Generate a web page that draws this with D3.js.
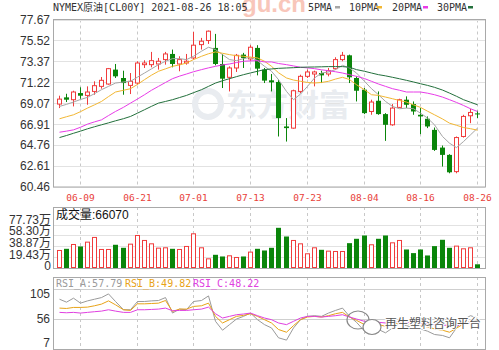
<!DOCTYPE html>
<html>
<head>
<meta charset="utf-8">
<script src="https://cdn.jsdelivr.net/npm/d3@7"></script>
<style>
  html, body { margin: 0; padding: 0; background: #fff; }
  svg { display: block; }
</style>
</head>
<body>
<div id="chart"></div>
<script>
// Trading days shown (MM-DD)
const dates = [
  '06-04','06-07','06-08','06-09','06-10','06-11','06-14','06-15','06-16','06-17',
  '06-18','06-21','06-22','06-23','06-24','06-25','06-28','06-29','06-30','07-01',
  '07-02','07-05','07-06','07-07','07-08','07-09','07-12','07-13','07-14','07-15',
  '07-16','07-19','07-20','07-21','07-22','07-23','07-26','07-27','07-28','07-29',
  '07-30','08-02','08-03','08-04','08-05','08-06','08-09','08-10','08-11','08-12',
  '08-13','08-16','08-17','08-18','08-19','08-20','08-23','08-24','08-25','08-26'
];

const opens = [
  68.98, 69.67, 69.43, 70.11, 69.87, 70.28, 70.80, 71.04, 72.52, 71.66,
  70.90, 71.14, 73.03, 73.03, 73.10, 73.55, 74.13, 73.10, 73.20, 73.72,
  75.09, 75.51, 74.75, 73.10, 71.73, 72.69, 74.06, 73.62, 74.75, 72.52,
  71.42, 71.25, 66.68, 66.51, 70.28, 71.83, 72.07, 72.17, 72.07, 72.62,
  73.55, 73.99, 71.66, 70.46, 68.22, 69.32, 67.95, 66.85, 68.64, 69.43,
  68.98, 67.88, 67.47, 66.33, 64.51, 63.76, 62.04, 65.65, 67.78, 68.02
];
const highs = [
  69.84, 70.04, 70.35, 70.70, 70.80, 71.32, 71.76, 72.69, 73.10, 72.41,
  72.17, 73.38, 73.48, 74.34, 73.72, 74.34, 74.58, 73.89, 74.13, 76.40,
  75.78, 76.54, 76.19, 74.13, 72.86, 74.13, 74.24, 75.03, 75.03, 72.69,
  72.07, 71.49, 67.54, 70.46, 72.00, 72.52, 72.41, 72.41, 72.69, 73.79,
  74.34, 74.06, 71.83, 70.63, 69.43, 70.28, 68.05, 68.98, 69.53, 69.77,
  69.25, 68.57, 67.71, 66.57, 64.72, 63.83, 65.65, 67.88, 68.50, 68.29
];
const lows = [
  68.57, 69.19, 68.74, 69.53, 68.91, 69.94, 70.56, 70.97, 71.66, 69.94,
  70.01, 70.97, 72.69, 72.76, 72.52, 73.03, 72.76, 72.35, 73.03, 73.55,
  74.58, 75.16, 72.96, 70.63, 70.28, 72.28, 72.69, 73.38, 71.93, 71.14,
  70.28, 65.65, 65.13, 66.45, 70.11, 71.66, 70.80, 71.14, 71.83, 72.52,
  73.38, 71.14, 69.25, 67.95, 67.88, 67.88, 65.20, 66.75, 68.57, 68.57,
  67.88, 65.89, 66.51, 64.17, 62.56, 61.87, 61.87, 65.54, 67.02, 67.54
];
const closes = [
  69.49, 69.43, 70.22, 69.84, 70.22, 70.87, 71.42, 72.62, 71.83, 71.14,
  71.32, 73.20, 73.20, 73.44, 73.38, 74.13, 73.10, 73.55, 73.38, 75.03,
  75.44, 76.47, 73.10, 71.59, 72.69, 73.99, 73.72, 74.82, 72.62, 71.39,
  71.21, 67.54, 66.51, 70.35, 71.83, 72.28, 72.28, 71.93, 72.41, 73.55,
  73.99, 71.73, 70.35, 68.05, 69.19, 67.95, 66.85, 68.57, 69.43, 68.91,
  68.22, 67.71, 66.68, 64.27, 63.76, 61.97, 65.54, 67.71, 68.12, 67.92
];

// Moving averages
const ma5 = [
  68.74, 68.95, 69.19, 69.45, 69.67, 70.05, 70.46, 70.80, 71.14, 71.25,
  71.32, 71.75, 72.17, 72.60, 73.03, 73.38, 73.65, 73.65, 73.55, 73.89,
  74.41, 74.82, 74.58, 74.06, 73.55, 73.44, 73.65, 73.79, 73.44, 72.86,
  72.35, 71.49, 70.28, 69.43, 70.01, 70.80, 71.66, 72.17, 72.28, 72.52,
  72.96, 72.69, 72.17, 71.32, 70.56, 69.94, 69.25, 68.74, 68.50, 68.57,
  68.50, 68.05, 67.54, 66.85, 65.65, 64.96, 64.51, 65.13, 65.82, 66.51
];
const ma10 = [
  67.47, 67.68, 67.88, 68.20, 68.57, 68.90, 69.25, 69.75, 70.22, 70.40,
  70.56, 71.00, 71.49, 71.95, 72.35, 72.60, 72.86, 73.00, 73.20, 73.55,
  73.89, 74.15, 74.34, 74.20, 74.06, 73.95, 73.89, 73.80, 73.72, 73.38,
  72.86, 72.20, 71.66, 71.45, 71.32, 71.20, 71.14, 71.20, 71.32, 71.55,
  71.73, 71.50, 70.97, 70.45, 69.94, 69.87, 69.70, 69.53, 69.35, 69.19,
  68.90, 68.64, 68.25, 67.88, 67.45, 67.02, 66.80, 66.57, 66.45, 66.30
];
const ma20 = [
  66.09, 66.20, 66.33, 66.60, 66.92, 67.15, 67.36, 67.80, 68.22, 68.65,
  69.08, 69.50, 69.94, 70.40, 70.80, 71.20, 71.59, 71.85, 72.07, 72.30,
  72.52, 72.70, 72.86, 73.00, 73.10, 73.25, 73.38, 73.42, 73.44, 73.31,
  73.31, 73.15, 73.03, 72.90, 72.76, 72.70, 72.62, 72.50, 72.41, 72.30,
  72.17, 72.00, 71.83, 71.60, 71.32, 71.04, 70.80, 70.56, 70.40, 70.22,
  70.22, 70.22, 70.10, 69.94, 69.70, 69.43, 69.15, 68.84, 68.50, 68.22
];
const ma30 = [
  65.54, 65.75, 65.98, 66.20, 66.44, 66.65, 66.85, 67.05, 67.26, 67.48,
  67.71, 68.05, 68.40, 68.75, 69.08, 69.25, 69.43, 69.65, 69.87, 70.15,
  70.46, 70.80, 71.14, 71.38, 71.59, 71.80, 72.00, 72.18, 72.35, 72.52,
  72.59, 72.65, 72.69, 72.72, 72.76, 72.78, 72.79, 72.81, 72.83, 72.83,
  72.83, 72.76, 72.52, 72.35, 72.17, 72.00, 71.88, 71.73, 71.58, 71.42,
  71.25, 71.07, 70.90, 70.70, 70.42, 70.11, 69.78, 69.43, 69.17, 68.91
];

// Volume in 万 (10k)
const volumes = [
  31.3, 34.3, 42.0, 38.5, 46.2, 54.6, 33.1, 33.1, 41.5, 36.1,
  42.6, 58.1, 49.2, 43.2, 35.5, 36.1, 34.3, 33.1, 38.5, 61.1,
  36.1, 16.4, 23.6, 20.6, 21.8, 18.8, 20.6, 28.4, 34.3, 31.3,
  36.1, 71.8, 56.3, 49.2, 43.2, 25.4, 36.1, 32.5, 30.1, 29.5,
  29.5, 44.4, 52.2, 58.1, 41.5, 52.2, 58.1, 45.0, 49.2, 33.1,
  26.6, 33.1, 22.4, 39.1, 50.4, 36.1, 39.1, 34.3, 36.1, 6.607
];

const rsiA = [
  88.3, 83.5, 90.0, 81.9, 85.6, 88.3, 91.0, 97.0, 84.6, 71.1,
  71.1, 84.6, 84.6, 85.6, 86.2, 91.0, 65.7, 72.2, 71.1, 84.6,
  86.2, 93.7, 52.2, 37.7, 46.8, 56.0, 60.3, 65.7, 54.9, 46.8,
  41.4, 25.3, 21.5, 41.4, 54.9, 60.3, 61.4, 60.3, 65.7, 70.0,
  73.8, 60.3, 50.6, 36.1, 44.1, 38.8, 33.4, 41.4, 48.5, 45.2,
  41.4, 39.8, 36.1, 30.7, 29.1, 25.3, 41.4, 54.9, 61.4, 57.79
];
const rsiB = [
  73.8, 73.2, 74.9, 74.9, 75.4, 77.6, 80.3, 85.6, 79.2, 71.1,
  70.0, 80.8, 80.8, 81.3, 81.9, 86.2, 68.4, 72.2, 72.2, 76.5,
  77.6, 81.9, 60.3, 49.5, 54.9, 60.3, 61.9, 64.6, 60.3, 54.9,
  49.5, 38.8, 34.4, 45.2, 54.9, 59.2, 60.3, 59.2, 61.4, 64.6,
  66.8, 59.2, 53.8, 46.8, 49.5, 46.8, 44.1, 46.8, 49.5, 48.5,
  46.8, 45.2, 43.1, 39.8, 37.7, 34.4, 41.0, 48.0, 52.0, 49.82
];
const rsiC = [
  66.8, 66.2, 66.8, 65.7, 66.8, 67.9, 68.9, 71.1, 68.9, 66.8,
  66.8, 71.1, 71.1, 71.6, 72.2, 73.8, 69.5, 70.0, 70.0, 71.1,
  72.2, 75.4, 64.6, 57.6, 60.3, 63.0, 64.1, 65.7, 61.4, 57.6,
  54.9, 49.5, 46.8, 52.2, 57.6, 60.3, 60.3, 59.2, 60.3, 61.4,
  63.0, 59.2, 56.0, 52.2, 52.2, 50.6, 49.5, 50.6, 51.1, 50.6,
  49.5, 49.5, 48.5, 46.8, 46.3, 45.2, 45.5, 48.5, 50.0, 48.22
];

const priceTicks = [77.67, 75.52, 73.37, 71.22, 69.07, 66.91, 64.76, 62.61, 60.46];
const dateTicks = ['06-09', '06-21', '07-01', '07-13', '07-23', '08-04', '08-16', '08-26'];
const volTicks = [0, 19.43, 38.87, 58.30, 77.73];
const volTickLabels = ['0', '19.43万', '38.87万', '58.30万', '77.73万'];
const rsiTicks = [7, 56, 105];

const title = 'NYMEX原油[CL00Y] 2021-08-26 18:05';
const maNames = ['5PMA', '10PMA', '20PMA', '30PMA'];
const volLabel = '成交量:66070';
const rsiNames = ['RSI_A:57.79', 'RSI_B:49.82', 'RSI_C:48.22'];

// ---------------------------------------------------------------
const W = 499, H = 350;
const left = 53, right = 485;
const main = { top: 19.5, bottom: 187 };
const vol = { top: 207, bottom: 268 };
const rsi = { top: 277, bottom: 349 };

const RED = '#f03c3c';
const GREEN = '#0a850a';
const maColors = ['#a6a6a6', '#f2b733', '#e83ce8', '#23703c'];
const rsiColors = ['#9a9a9a', '#e8a317', '#e040e0'];
const MONO = '"DejaVu Sans Mono", "Noto Sans CJK SC", monospace';
const SANS = '"Liberation Sans", Arial, "Noto Sans CJK SC", sans-serif';

const data = dates.map((d, i) => ({
  date: d, open: opens[i], high: highs[i], low: lows[i], close: closes[i],
  vol: volumes[i], up: closes[i] >= opens[i]
}));

const svg = d3.select('#chart').append('svg')
  .attr('width', W).attr('height', H);

const x = d3.scaleBand().domain(dates).range([55.2, 480.5]);
const cx = d => Math.round(x(d) + x.bandwidth() / 2);

const y = d3.scaleLinear().domain([60.46, 77.67]).range([main.bottom, main.top]);
const yVol = d3.scaleLinear().domain([0, 77.73]).range([vol.bottom, 224.5]);
const yRsi = d3.scaleLinear().domain([7, 105]).range([rsi.bottom, 289]);

// top red site watermark (cut off at the top edge, as in the original)
svg.append('text')
  .attr('x', 306).attr('y', 12)
  .attr('text-anchor', 'end')
  .attr('fill', '#f8c6ba')
  .style('font', 'bold 24px "Liberation Sans", Arial, sans-serif')
  .text('gu.cn');

// title
svg.append('text')
  .attr('x', 53).attr('y', 11)
  .attr('fill', '#333')
  .style('font-family', MONO).style('font-size', '10px')
  .text(title);

// MA legend
const legendX = [308, 349, 392, 437];
const legendDash = [335, 377, 423, 468];
maNames.forEach((n, i) => {
  svg.append('text')
    .attr('x', legendX[i]).attr('y', 11)
    .attr('fill', '#333')
    .style('font-family', MONO).style('font-size', '10px')
    .text(n);
  svg.append('rect')
    .attr('x', legendDash[i]).attr('y', 6)
    .attr('width', 5).attr('height', 2.5)
    .attr('fill', maColors[i]);
});

// pane frames, grids
function pane(p) {
  const g = svg.append('g');
  g.selectAll('line.v')
    .data(dateTicks)
    .join('line')
    .attr('x1', d => cx(d) + 0.5).attr('x2', d => cx(d) + 0.5)
    .attr('y1', p.top).attr('y2', p.bottom)
    .attr('stroke', '#c8c8c8')
    .attr('stroke-dasharray', '3,3');
  return g;
}

// ---- main pane
const gMain = pane(main);
gMain.selectAll('line.h')
  .data(priceTicks)
  .join('line')
  .attr('x1', left).attr('x2', right)
  .attr('y1', d => Math.round(y(d)) + 0.5).attr('y2', d => Math.round(y(d)) + 0.5)
  .attr('stroke', '#e2e2e2');

// watermark logo text
svg.append('text')
  .attr('x', 226).attr('y', 116)
  .attr('fill', '#e9ecf0')
  .style('font', 'bold 31px "Noto Sans CJK SC", sans-serif')
  .text('东方财富');
svg.append('circle')
  .attr('cx', 208).attr('cy', 104).attr('r', 13)
  .attr('fill', 'none').attr('stroke', '#e9ecf0').attr('stroke-width', 6);

// candles
const gC = svg.append('g');
gC.selectAll('line.wick')
  .data(data)
  .join('line')
  .attr('x1', d => cx(d.date) + 0.5).attr('x2', d => cx(d.date) + 0.5)
  .attr('y1', d => y(d.high)).attr('y2', d => y(d.low))
  .attr('stroke', d => d.up ? RED : GREEN);

gC.selectAll('rect.body')
  .data(data)
  .join('rect')
  .attr('x', d => d.up ? cx(d.date) - 1.5 : cx(d.date) - 2)
  .attr('width', d => d.up ? 4 : 5)
  .attr('y', d => y(Math.max(d.open, d.close)))
  .attr('height', d => Math.max(1, Math.abs(y(d.open) - y(d.close))))
  .attr('fill', d => d.up ? '#fff' : GREEN)
  .attr('stroke', d => d.up ? RED : 'none');

// moving averages
const maSeries = [ma5, ma10, ma20, ma30];
maSeries.forEach((s, k) => {
  const line = d3.line()
    .x((v, i) => cx(dates[i]) + 0.5)
    .y(v => y(v));
  svg.append('path')
    .datum(s)
    .attr('fill', 'none')
    .attr('stroke', maColors[k])
    .attr('stroke-width', 1)
    .attr('d', line);
});

// main frame
svg.append('rect')
  .attr('x', left + 0.5).attr('y', 19.5)
  .attr('width', right - left).attr('height', main.bottom - 19.5)
  .attr('fill', 'none').attr('stroke', '#a9a9a9');

// price labels
svg.append('g').selectAll('text')
  .data(priceTicks)
  .join('text')
  .attr('x', 50).attr('y', d => y(d))
  .attr('dy', '0.36em')
  .attr('text-anchor', 'end')
  .attr('fill', '#333')
  .style('font-family', SANS).style('font-size', '12px')
  .text(d => d.toFixed(2));

// date labels
svg.append('g').selectAll('text')
  .data(dateTicks)
  .join('text')
  .attr('x', d => cx(d) + 0.5).attr('y', 201)
  .attr('text-anchor', 'middle')
  .attr('fill', '#e8413a')
  .style('font-family', MONO).style('font-size', '9.5px')
  .text(d => d);

// ---- volume pane
const gVol = pane(vol);
gVol.selectAll('line.h')
  .data(volTicks.slice(1))
  .join('line')
  .attr('x1', left).attr('x2', right)
  .attr('y1', d => Math.round(yVol(d)) + 0.5).attr('y2', d => Math.round(yVol(d)) + 0.5)
  .attr('stroke', '#e2e2e2');

svg.append('g').selectAll('rect')
  .data(data)
  .join('rect')
  .attr('x', d => d.up ? cx(d.date) - 1.5 : cx(d.date) - 2)
  .attr('width', d => d.up ? 4 : 5)
  .attr('y', d => yVol(d.vol))
  .attr('height', d => yVol(0) - yVol(d.vol) - (d.up ? 0.5 : 0))
  .attr('fill', d => d.up ? '#fff' : GREEN)
  .attr('stroke', d => d.up ? RED : 'none');

svg.append('rect')
  .attr('x', left + 0.5).attr('y', vol.top + 0.5)
  .attr('width', right - left).attr('height', vol.bottom - vol.top)
  .attr('fill', 'none').attr('stroke', '#a9a9a9');

svg.append('text')
  .attr('x', 56).attr('y', 219)
  .attr('fill', '#111')
  .style('font-family', SANS).style('font-size', '12px')
  .text(volLabel);

// labels are packed tighter than the grid, as in the original
svg.append('g').selectAll('text')
  .data(volTicks)
  .join('text')
  .attr('x', 51).attr('y', (d, i) => vol.bottom - 2 - i * 11.7)
  .attr('dy', '0.36em')
  .attr('text-anchor', 'end')
  .attr('fill', '#333')
  .style('font-family', SANS).style('font-size', '12px')
  .text((d, i) => volTickLabels[i]);

// ---- RSI pane
const gRsi = pane(rsi);
gRsi.selectAll('line.h')
  .data(rsiTicks.slice(1))
  .join('line')
  .attr('x1', left).attr('x2', right)
  .attr('y1', d => Math.round(yRsi(d)) + 0.5).attr('y2', d => Math.round(yRsi(d)) + 0.5)
  .attr('stroke', '#cfcfcf');

[rsiA, rsiB, rsiC].forEach((s, k) => {
  const line = d3.line()
    .x((v, i) => cx(dates[i]) + 0.5)
    .y(v => yRsi(v));
  svg.append('path')
    .datum(s)
    .attr('fill', 'none')
    .attr('stroke', rsiColors[k])
    .attr('stroke-width', 1)
    .attr('d', line);
});

svg.append('rect')
  .attr('x', left + 0.5).attr('y', rsi.top + 0.5)
  .attr('width', right - left).attr('height', rsi.bottom - rsi.top)
  .attr('fill', 'none').attr('stroke', '#a9a9a9');

const rsiLegX = [56, 125, 193];
rsiNames.forEach((n, i) => {
  svg.append('text')
    .attr('x', rsiLegX[i]).attr('y', 287)
    .attr('fill', rsiColors[i])
    .style('font-family', MONO).style('font-size', '10px')
    .text(n);
});

svg.append('g').selectAll('text')
  .data(rsiTicks)
  .join('text')
  .attr('x', 50)
  .attr('y', d => Math.min(rsi.bottom - 6, Math.max(294, yRsi(d))))
  .attr('dy', '0.36em')
  .attr('text-anchor', 'end')
  .attr('fill', '#333')
  .style('font-family', SANS).style('font-size', '12px')
  .text(d => d);

// bottom-right wechat watermark
const wm = svg.append('g');
wm.append('ellipse')
  .attr('cx', 358).attr('cy', 320).attr('rx', 11).attr('ry', 9)
  .attr('fill', 'none').attr('stroke', '#888').attr('stroke-width', 1.2);
wm.append('ellipse')
  .attr('cx', 372).attr('cy', 327).attr('rx', 9).attr('ry', 7.5)
  .attr('fill', '#fff').attr('stroke', '#888').attr('stroke-width', 1.2);
wm.append('text')
  .attr('x', 385).attr('y', 328)
  .attr('fill', '#555')
  .attr('stroke', '#fff').attr('stroke-width', 2).attr('paint-order', 'stroke')
  .style('font', '12px "Noto Sans CJK SC", sans-serif')
  .text('再生塑料咨询平台');
</script>
</body>
</html>
